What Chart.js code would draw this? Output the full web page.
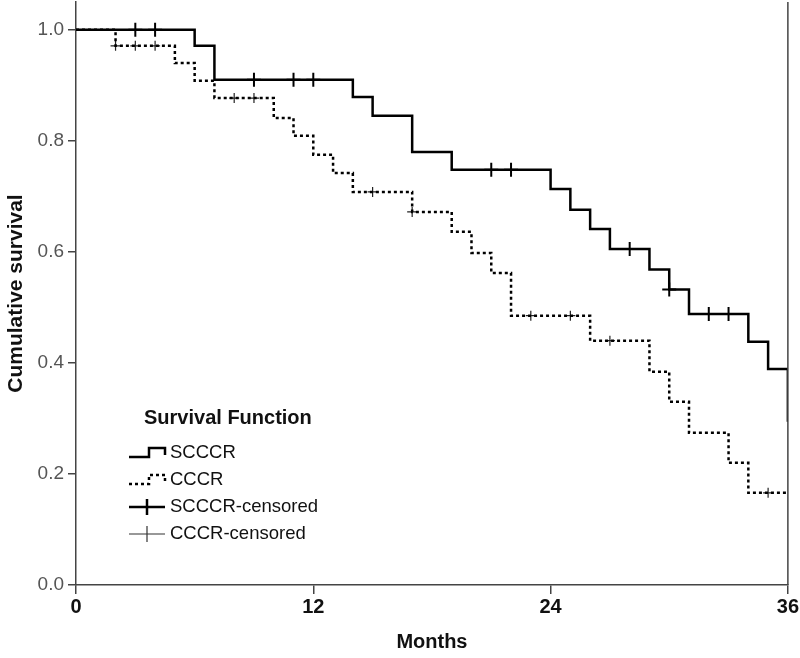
<!DOCTYPE html>
<html>
<head>
<meta charset="utf-8">
<script src="https://cdn.jsdelivr.net/npm/chart.js@4.4.1/dist/chart.umd.min.js"></script>
<style>
  body { margin: 0; background: #fff; }
  #wrap { width: 800px; height: 658px; }
</style>
</head>
<body>
<div id="wrap"><canvas id="km" width="800" height="658"></canvas></div>
<script>
// Kaplan-Meier steps (months, cumulative survival)
const scccrTime = [0, 6, 7, 14, 15, 17, 19, 24, 25, 26, 27, 29, 30, 31, 34, 35, 36];
const scccrSurv = [1.0, 0.971, 0.910, 0.879, 0.845, 0.780, 0.748, 0.713, 0.676, 0.641, 0.605, 0.568, 0.532, 0.488, 0.438, 0.389, 0.294];
const scccrCensTime = [3, 4, 9, 11, 12, 21, 22, 28, 30, 32, 33];
const scccrCensSurv = [1.0, 1.0, 0.910, 0.910, 0.910, 0.748, 0.748, 0.605, 0.532, 0.488, 0.488];

const cccrTime = [0, 2, 5, 6, 7, 10, 11, 12, 13, 14, 17, 19, 20, 21, 22, 26, 29, 30, 31, 33, 34, 36];
const cccrSurv = [1.0, 0.971, 0.940, 0.908, 0.877, 0.841, 0.809, 0.775, 0.742, 0.708, 0.672, 0.636, 0.598, 0.562, 0.485, 0.440, 0.384, 0.330, 0.274, 0.220, 0.166, 0.166];
const cccrCensTime = [2, 3, 4, 8, 9, 15, 17, 23, 25, 27, 35];
const cccrCensSurv = [0.971, 0.971, 0.971, 0.877, 0.877, 0.708, 0.672, 0.485, 0.485, 0.440, 0.166];

const xTicks = [0, 12, 24, 36];
const yTicks = [0, 0.2, 0.4, 0.6, 0.8, 1.0];
const legendTitle = "Survival Function";
const legendLabels = ["SCCCR", "CCCR", "SCCCR-censored", "CCCR-censored"];

function pts(xs, ys) {
  return xs.map((x, i) => ({ x: x, y: ys[i] }));
}

const axisColor = "#444";
const sans = "'Liberation Sans', Arial, sans-serif";

// right frame line + the SPSS style legend inside the plot
const frameAndLegend = {
  id: "frameAndLegend",
  afterDraw(chart) {
    const ctx = chart.ctx;
    const a = chart.chartArea;
    ctx.save();
    ctx.strokeStyle = axisColor;
    ctx.lineWidth = 1.5;
    ctx.beginPath();
    ctx.moveTo(a.right, a.top);
    ctx.lineTo(a.right, a.bottom);
    ctx.stroke();

    // legend
    ctx.fillStyle = "#111";
    ctx.textBaseline = "middle";
    ctx.font = "bold 20px " + sans;
    ctx.fillText(legendTitle, 144, 418);
    ctx.font = "18.5px " + sans;
    const rows = [453, 480, 507, 534];
    legendLabels.forEach((t, i) => ctx.fillText(t, 170, rows[i]));

    ctx.strokeStyle = "#000";
    // solid step
    let y = rows[0];
    ctx.lineWidth = 2.5;
    ctx.setLineDash([]);
    ctx.beginPath();
    ctx.moveTo(129, y + 4); ctx.lineTo(149, y + 4); ctx.lineTo(149, y - 5);
    ctx.lineTo(165, y - 5); ctx.lineTo(165, y + 2);
    ctx.stroke();
    // dotted step
    y = rows[1];
    ctx.setLineDash([3, 3]);
    ctx.beginPath();
    ctx.moveTo(129, y + 4); ctx.lineTo(149, y + 4); ctx.lineTo(149, y - 5);
    ctx.lineTo(165, y - 5); ctx.lineTo(165, y + 2);
    ctx.stroke();
    ctx.setLineDash([]);
    // censored symbols
    y = rows[2];
    ctx.lineWidth = 2.5;
    ctx.beginPath();
    ctx.moveTo(129, y); ctx.lineTo(165, y);
    ctx.moveTo(147, y - 8); ctx.lineTo(147, y + 8);
    ctx.stroke();
    y = rows[3];
    ctx.lineWidth = 1.2;
    ctx.strokeStyle = "#333";
    ctx.beginPath();
    ctx.moveTo(129, y); ctx.lineTo(165, y);
    ctx.moveTo(147, y - 8); ctx.lineTo(147, y + 8);
    ctx.stroke();
    ctx.restore();
  }
};

new Chart(document.getElementById("km"), {
  type: "line",
  data: {
    datasets: [
      {
        label: "SCCCR",
        data: pts(scccrTime, scccrSurv),
        stepped: true,
        borderColor: "#000",
        borderWidth: 2.5,
        pointRadius: 0,
        fill: false,
      },
      {
        label: "CCCR",
        data: pts(cccrTime, cccrSurv),
        stepped: true,
        borderColor: "#000",
        borderWidth: 2.5,
        borderDash: [3, 3],
        pointRadius: 0,
        fill: false,
      },
      {
        label: "SCCCR-censored",
        data: pts(scccrCensTime, scccrCensSurv),
        showLine: false,
        pointStyle: "cross",
        pointRadius: 7,
        pointBorderWidth: 2,
        pointBorderColor: "#000",
      },
      {
        label: "CCCR-censored",
        data: pts(cccrCensTime, cccrCensSurv),
        showLine: false,
        pointStyle: "cross",
        pointRadius: 5,
        pointBorderWidth: 1.2,
        pointBorderColor: "#222",
      },
    ],
  },
  plugins: [frameAndLegend],
  options: {
    responsive: false,
    animation: false,
    layout: { autoPadding: false, padding: { top: 2, right: 11, left: 0, bottom: 0 } },
    plugins: {
      legend: { display: false },
      tooltip: { enabled: false },
    },
    scales: {
      x: {
        type: "linear",
        min: 0,
        max: 36,
        afterBuildTicks: (axis) => { axis.ticks = xTicks.map((v) => ({ value: v })); },
        afterFit: (scale) => { scale.height = 73; },
        border: { color: axisColor, width: 1.5 },
        grid: { drawOnChartArea: false, tickLength: 9, color: axisColor, lineWidth: 1.5 },
        ticks: {
          color: "#111",
          padding: 1,
          maxRotation: 0,
          font: { family: sans, size: 20, weight: "bold" },
        },
        title: {
          display: true,
          text: "Months",
          color: "#111",
          padding: { top: 6 },
          font: { family: sans, size: 20, weight: "bold" },
        },
      },
      y: {
        min: 0,
        max: 1.05,
        afterBuildTicks: (axis) => { axis.ticks = yTicks.map((v) => ({ value: v })); },
        afterFit: (scale) => {
          scale.width = 76;
          scale.paddingTop = 0;
          scale.paddingBottom = 0;
        },
        border: { color: axisColor, width: 1.5 },
        grid: { drawOnChartArea: false, tickLength: 8, color: axisColor, lineWidth: 1.5 },
        ticks: {
          color: "#555",
          padding: 4,
          callback: (v) => v.toFixed(1),
          font: { family: sans, size: 19 },
        },
        title: {
          display: true,
          text: "Cumulative survival",
          color: "#111",
          padding: { bottom: 2 },
          font: { family: sans, size: 21, weight: "bold" },
        },
      },
    },
  },
});
</script>
</body>
</html>
